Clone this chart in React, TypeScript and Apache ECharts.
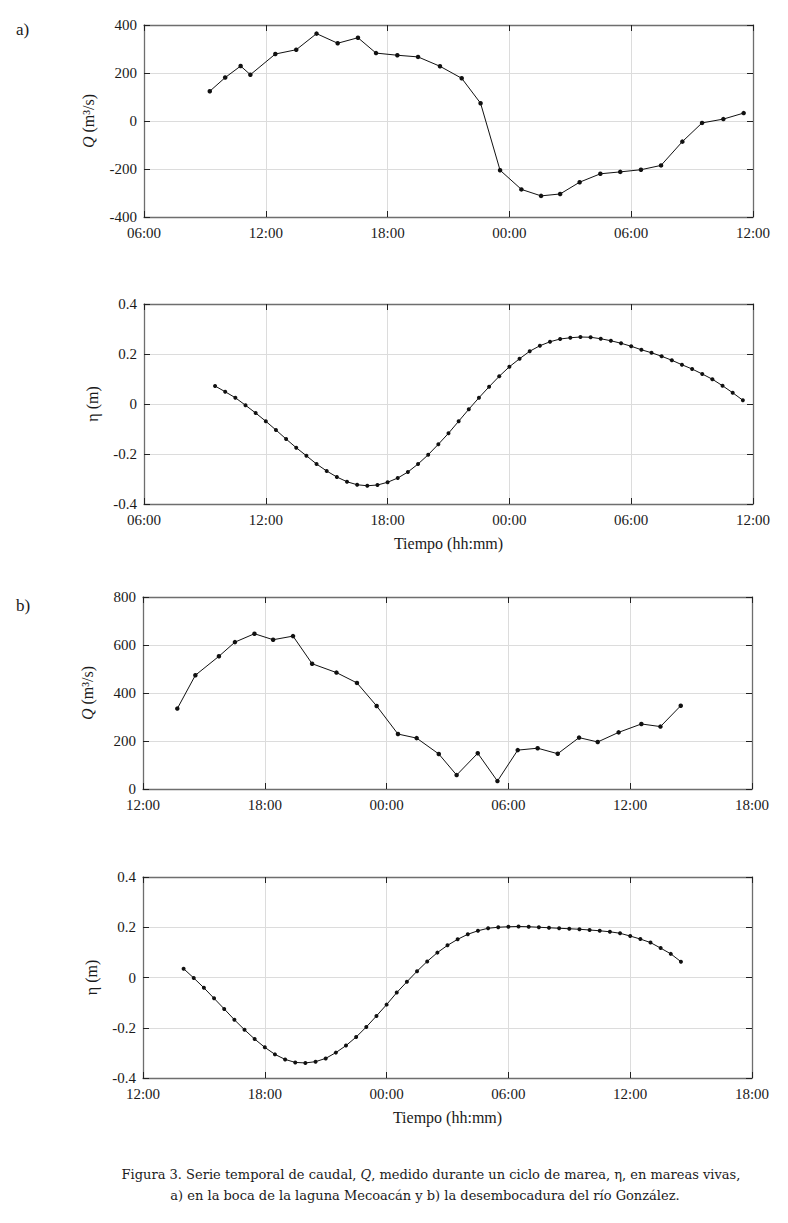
import React, { useEffect, useRef } from "react";
import * as echarts from "echarts";

// ---------- Data (hours counted from 00:00 of the first day) ----------
const aQTimes = [9.24, 10.0, 10.76, 11.24, 12.47, 13.5, 14.5, 15.54, 16.54, 17.43, 18.48, 19.5, 20.58, 21.65, 22.58, 23.54, 24.59, 25.56, 26.5, 27.46, 28.48, 29.46, 30.48, 31.47, 32.52, 33.49, 34.54, 35.54];
const aQValues = [124, 181, 229, 193, 279, 297, 364, 324, 347, 283, 274, 267, 228, 178, 74, -205, -285, -312, -304, -255, -220, -212, -203, -185, -86, -8, 8, 33];

const aEtaTimes = [9.5, 10, 10.5, 11, 11.5, 12, 12.5, 13, 13.5, 14, 14.5, 15, 15.5, 16, 16.5, 17, 17.5, 18, 18.5, 19, 19.5, 20, 20.5, 21, 21.5, 22, 22.5, 23, 23.5, 24, 24.5, 25, 25.5, 26, 26.5, 27, 27.5, 28, 28.5, 29, 29.5, 30, 30.5, 31, 31.5, 32, 32.5, 33, 33.5, 34, 34.5, 35, 35.5];
const aEtaValues = [0.072, 0.049, 0.025, -0.005, -0.036, -0.069, -0.104, -0.14, -0.175, -0.207, -0.24, -0.268, -0.292, -0.311, -0.323, -0.327, -0.324, -0.313, -0.296, -0.272, -0.24, -0.203, -0.161, -0.117, -0.069, -0.021, 0.025, 0.069, 0.111, 0.149, 0.181, 0.211, 0.233, 0.249, 0.26, 0.265, 0.268, 0.267, 0.261, 0.253, 0.243, 0.231, 0.217, 0.205, 0.191, 0.175, 0.157, 0.14, 0.12, 0.099, 0.073, 0.045, 0.015];

const bQTimes = [13.69, 14.58, 15.74, 16.53, 17.49, 18.41, 19.39, 20.33, 21.53, 22.54, 23.51, 24.56, 25.48, 26.57, 27.45, 28.49, 29.46, 30.46, 31.44, 32.43, 33.48, 34.4, 35.43, 36.55, 37.49, 38.49];
const bQValues = [335, 474, 553, 612, 647, 622, 637, 522, 485, 442, 346, 229, 212, 146, 58, 149, 33, 162, 170, 147, 214, 196, 236, 271, 260, 347];

const bEtaTimes = [14, 14.5, 15, 15.5, 16, 16.5, 17, 17.5, 18, 18.5, 19, 19.5, 20, 20.5, 21, 21.5, 22, 22.5, 23, 23.5, 24, 24.5, 25, 25.5, 26, 26.5, 27, 27.5, 28, 28.5, 29, 29.5, 30, 30.5, 31, 31.5, 32, 32.5, 33, 33.5, 34, 34.5, 35, 35.5, 36, 36.5, 37, 37.5, 38, 38.5];
const bEtaValues = [0.035, -0.002, -0.041, -0.083, -0.125, -0.168, -0.208, -0.245, -0.278, -0.306, -0.326, -0.338, -0.34, -0.335, -0.322, -0.299, -0.271, -0.237, -0.197, -0.153, -0.108, -0.06, -0.017, 0.025, 0.064, 0.099, 0.128, 0.152, 0.172, 0.186, 0.196, 0.2, 0.202, 0.203, 0.202, 0.2, 0.198, 0.196, 0.194, 0.192, 0.189, 0.186, 0.182, 0.176, 0.165, 0.153, 0.139, 0.117, 0.094, 0.063];

// axis ranges [min, max, interval]
const aXRange = [6, 36, 6];
const bXRange = [12, 42, 6];
const aQRange = [-400, 400, 200];
const bQRange = [0, 800, 200];
const etaRange = [-0.4, 0.4, 0.2];

const qAxisName = "{q|Q} (m³/s)";
const etaAxisName = "η (m)";
const xAxisName = "Tiempo (hh:mm)";
const captionLine1 = "Figura 3. Serie temporal de caudal, {i|Q}, medido durante un ciclo de marea, η, en mareas vivas,";
const captionLine2 = "a) en la boca de la laguna Mecoacán y b) la desembocadura del río González.";

const FONT = "'Liberation Serif', 'Times New Roman', serif";
const CAP_FONT = "'DejaVu Serif', 'Liberation Serif', serif";
const TXT = "#1a1a1a";

function fmtHour(v: number) {
  const h = ((Math.round(v) % 24) + 24) % 24;
  return (h < 10 ? "0" : "") + h + ":00";
}

export default function App() {
  const ref = useRef<HTMLDivElement>(null);

  useEffect(() => {
    document.body.style.margin = "0";
    if (!ref.current) return;
    const chart = echarts.init(ref.current, undefined, { renderer: "svg" });

    const grids = [
      { left: 144, top: 25, width: 609, height: 192 },
      { left: 144, top: 304, width: 609, height: 200 },
      { left: 143, top: 597, width: 609, height: 192 },
      { left: 143, top: 877, width: 609, height: 201 },
    ];
    const xr = [aXRange, aXRange, bXRange, bXRange];
    const yr = [aQRange, etaRange, bQRange, etaRange];
    const yNames = [qAxisName, etaAxisName, qAxisName, etaAxisName];
    const yGaps = [48, 44, 48, 44];
    const xNames = ["", xAxisName, "", xAxisName];

    const lineStyle = { color: "#6e6e6e", width: 1.3 };
    const tick = { show: true, inside: true, length: 6, lineStyle: { color: "#222", width: 1 } };
    const split = { show: true, lineStyle: { color: "#dcdcdc", width: 1 } };

    const xAxis: any[] = [];
    const yAxis: any[] = [];
    grids.forEach((g, i) => {
      const [xmin, xmax, xint] = xr[i];
      const [ymin, ymax, yint] = yr[i];
      xAxis.push({
        type: "value", gridIndex: i, min: xmin, max: xmax, interval: xint, position: "bottom",
        axisLine: { show: true, onZero: false, lineStyle }, axisTick: tick, splitLine: split,
        axisLabel: { formatter: fmtHour, fontFamily: FONT, fontSize: 15, color: TXT, margin: 8 },
        name: xNames[i], nameLocation: "middle", nameGap: 31,
        nameTextStyle: { fontFamily: FONT, fontSize: 16, color: TXT },
      });
      xAxis.push({
        type: "value", gridIndex: i, min: xmin, max: xmax, interval: xint, position: "top",
        axisLine: { show: true, onZero: false, lineStyle }, axisTick: tick, splitLine: { show: false },
        axisLabel: { show: false },
      });
      yAxis.push({
        type: "value", gridIndex: i, min: ymin, max: ymax, interval: yint, position: "left",
        axisLine: { show: true, onZero: false, lineStyle }, axisTick: tick, splitLine: split,
        axisLabel: { fontFamily: FONT, fontSize: 15, color: TXT, margin: 7 },
        name: yNames[i], nameLocation: "middle", nameGap: yGaps[i],
        nameTextStyle: {
          fontFamily: FONT, fontSize: 16, color: TXT,
          rich: { q: { fontFamily: FONT, fontSize: 16, fontStyle: "italic", color: TXT } },
        },
      });
      yAxis.push({
        type: "value", gridIndex: i, min: ymin, max: ymax, interval: yint, position: "right",
        axisLine: { show: true, onZero: false, lineStyle }, axisTick: tick, splitLine: { show: false },
        axisLabel: { show: false },
      });
    });

    const mk = (t: number[], v: number[], i: number, size: number) => ({
      type: "line",
      xAxisIndex: 2 * i,
      yAxisIndex: 2 * i,
      data: t.map((x, k) => [x, v[k]]),
      symbol: "circle",
      symbolSize: size,
      showSymbol: true,
      lineStyle: { color: "#111", width: 1 },
      itemStyle: { color: "#111" },
      z: 5,
    });

    chart.setOption({
      animation: false,
      backgroundColor: "#fff",
      grid: grids,
      xAxis,
      yAxis,
      series: [
        mk(aQTimes, aQValues, 0, 4.5),
        mk(aEtaTimes, aEtaValues, 1, 4),
        mk(bQTimes, bQValues, 2, 4.5),
        mk(bEtaTimes, bEtaValues, 3, 4),
      ],
      graphic: [
        { type: "text", left: 16, top: 21, style: { text: "a)", fontFamily: FONT, fontSize: 17, fill: TXT } },
        { type: "text", left: 16, top: 597, style: { text: "b)", fontFamily: FONT, fontSize: 17, fill: TXT } },
        {
          type: "text", x: 431, y: 1174,
          style: {
            text: captionLine1, fontFamily: CAP_FONT, fontSize: 13, fill: TXT, align: "center", verticalAlign: "middle",
            rich: { i: { fontFamily: CAP_FONT, fontSize: 13, fontStyle: "italic", fill: TXT } },
          },
        },
        {
          type: "text", x: 425, y: 1195,
          style: { text: captionLine2, fontFamily: CAP_FONT, fontSize: 13, fill: TXT, align: "center", verticalAlign: "middle" },
        },
      ],
    });

    return () => chart.dispose();
  }, []);

  return <div ref={ref} style={{ width: 788, height: 1223 }} />;
}
